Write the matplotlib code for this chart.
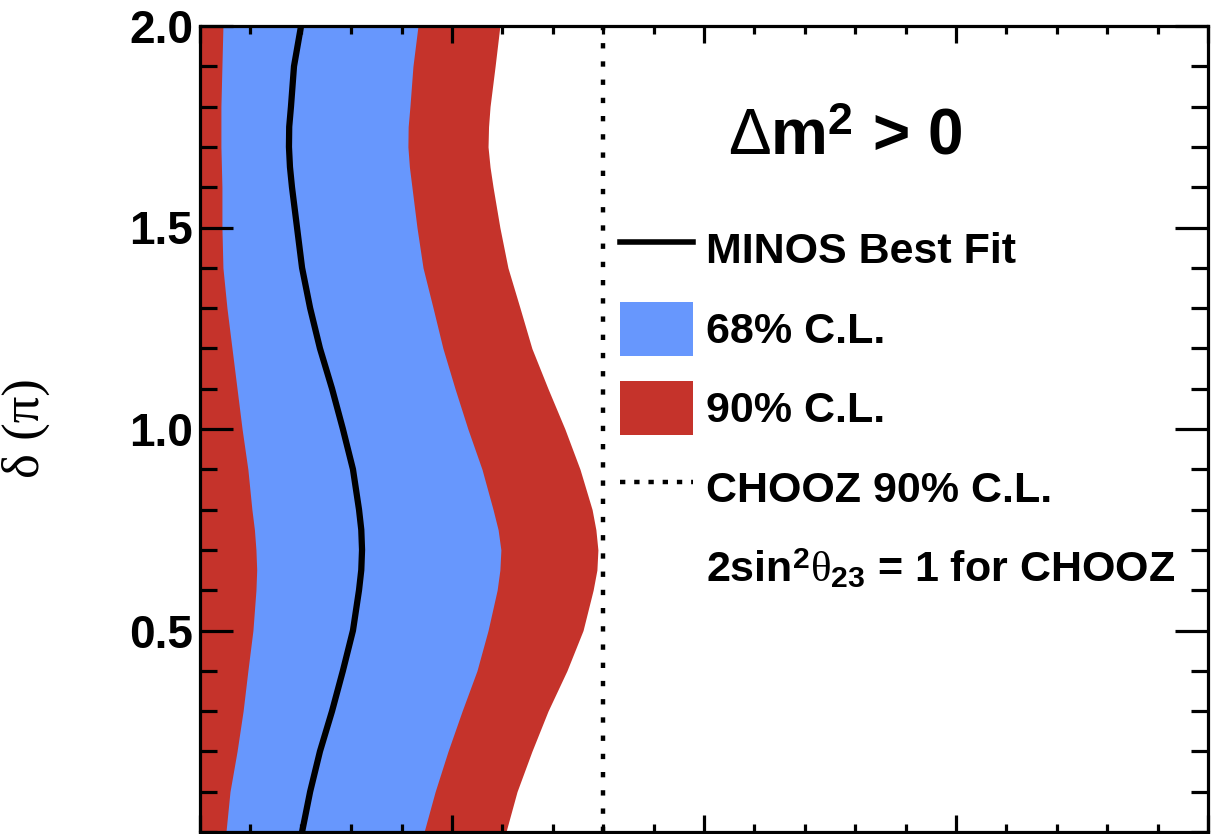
import matplotlib
matplotlib.use("Agg")
import matplotlib.pyplot as plt
from matplotlib.lines import Line2D
from matplotlib.patches import Patch
from matplotlib.ticker import MultipleLocator

plt.rcParams['font.family'] = ['Liberation Sans', 'DejaVu Sans']
plt.rcParams['mathtext.fontset'] = 'custom'
plt.rcParams['mathtext.rm'] = 'Liberation Sans'
plt.rcParams['mathtext.bf'] = 'Liberation Sans:bold'
plt.rcParams['mathtext.it'] = 'Liberation Serif'

# delta in units of pi
delta = [0.0, 0.1, 0.2, 0.3, 0.4, 0.5, 0.6, 0.65, 0.7, 0.75, 0.8, 0.9, 1.0,
         1.1, 1.2, 1.3, 1.4, 1.5, 1.6, 1.65, 1.7, 1.75, 1.8, 1.9, 2.0]
# 2 sin^2(theta23) sin^2(2 theta13) contours
lower_68 = [0.0103, 0.0119, 0.0147, 0.0171, 0.0190, 0.0210, 0.0222, 0.0225, 0.0222, 0.0216, 0.0206,
            0.0190, 0.0167, 0.0147, 0.0127, 0.0107, 0.0091, 0.0087, 0.0087, 0.0085, 0.0083, 0.0083,
            0.0083, 0.0087, 0.0091]
best_fit = [0.0405, 0.0437, 0.0476, 0.0524, 0.0567, 0.0607, 0.0631, 0.0640, 0.0643, 0.0640, 0.0631,
            0.0607, 0.0567, 0.0524, 0.0476, 0.0437, 0.0405, 0.0385, 0.0365, 0.0357, 0.0353, 0.0354,
            0.0361, 0.0373, 0.0401]
upper_68 = [0.0889, 0.0933, 0.0984, 0.1040, 0.1099, 0.1143, 0.1179, 0.1190, 0.1194, 0.1183, 0.1163,
            0.1119, 0.1063, 0.1012, 0.0964, 0.0925, 0.0885, 0.0861, 0.0841, 0.0831, 0.0825, 0.0826,
            0.0833, 0.0845, 0.0865]
upper_90 = [0.1214, 0.1258, 0.1317, 0.1381, 0.1456, 0.1520, 0.1560, 0.1575, 0.1579, 0.1571, 0.1556,
            0.1508, 0.1448, 0.1381, 0.1317, 0.1270, 0.1222, 0.1190, 0.1163, 0.1151, 0.1143, 0.1145,
            0.1151, 0.1171, 0.1190]
chooz_limit = 0.16

y_ticks = [0.5, 1.0, 1.5, 2.0]
y_ticklabels = ['0.5', '1.0', '1.5', '2.0']

blue = '#6797FD'
red = '#C5332B'

fig = plt.figure(figsize=(12.22, 8.34), dpi=100)
ax = fig.add_axes([200 / 1222, 2 / 834, 1008 / 1222, 806 / 834])

ax.fill_betweenx(delta, 0, upper_90, color=red, lw=0, zorder=0.5)
ax.fill_betweenx(delta, lower_68, upper_68, color=blue, lw=0, zorder=0.6)
ax.plot(best_fit, delta, color='black', lw=4.5, zorder=3, solid_joinstyle='round')
ax.axvline(chooz_limit, color='black', lw=3.2, ls=(0, (1.2, 2.9)), zorder=3)

ax.set_xlim(0, 0.4)
ax.set_ylim(0, 2.0)
ax.xaxis.set_major_locator(MultipleLocator(0.1))
ax.xaxis.set_minor_locator(MultipleLocator(0.02))
ax.set_yticks(y_ticks)
ax.set_yticklabels(y_ticklabels)
ax.yaxis.set_minor_locator(MultipleLocator(0.1))

ax.tick_params(axis='both', which='both', direction='in', top=True, right=True,
               width=2.3, colors='black')
ax.tick_params(axis='x', which='major', length=12, labelbottom=False)
ax.tick_params(axis='x', which='minor', length=6)
ax.tick_params(axis='y', which='major', length=24, pad=5)
ax.tick_params(axis='y', which='minor', length=12)
for lab in ax.get_yticklabels():
    lab.set_fontsize(33)
    lab.set_fontweight('bold')
for sp in ax.spines.values():
    sp.set_linewidth(2.3)

ax.set_ylabel('δ (π)', family=['Liberation Serif', 'DejaVu Serif'], fontsize=38)
ax.yaxis.set_label_coords(-0.149, 0.501)

ax.text(0.640, 0.840, r'$\Delta$m$^{\mathbf{2}}$ > 0', transform=ax.transAxes,
        ha='center', va='baseline', fontsize=46, fontweight='bold')

handles = [
    Line2D([], [], color='black', lw=4),
    Patch(facecolor=blue, edgecolor='none'),
    Patch(facecolor=red, edgecolor='none'),
    Line2D([], [], color='black', lw=3.2, ls=(0, (1.2, 2.0))),
    Line2D([], [], color='none'),
]
labels = [
    'MINOS Best Fit',
    '68% C.L.',
    '90% C.L.',
    'CHOOZ 90% C.L.',
    r'2sin$^{\mathbf{2}}\theta_{\mathbf{23}}$ = 1 for CHOOZ',
]
leg = ax.legend(handles, labels, loc='upper left', bbox_to_anchor=(0.4167, 0.757),
                frameon=False, borderpad=0, borderaxespad=0,
                prop={'weight': 'bold', 'size': 31},
                handlelength=1.7, handleheight=1.55, handletextpad=0.3,
                labelspacing=0.6)

fig.savefig('out.png', dpi=100)
